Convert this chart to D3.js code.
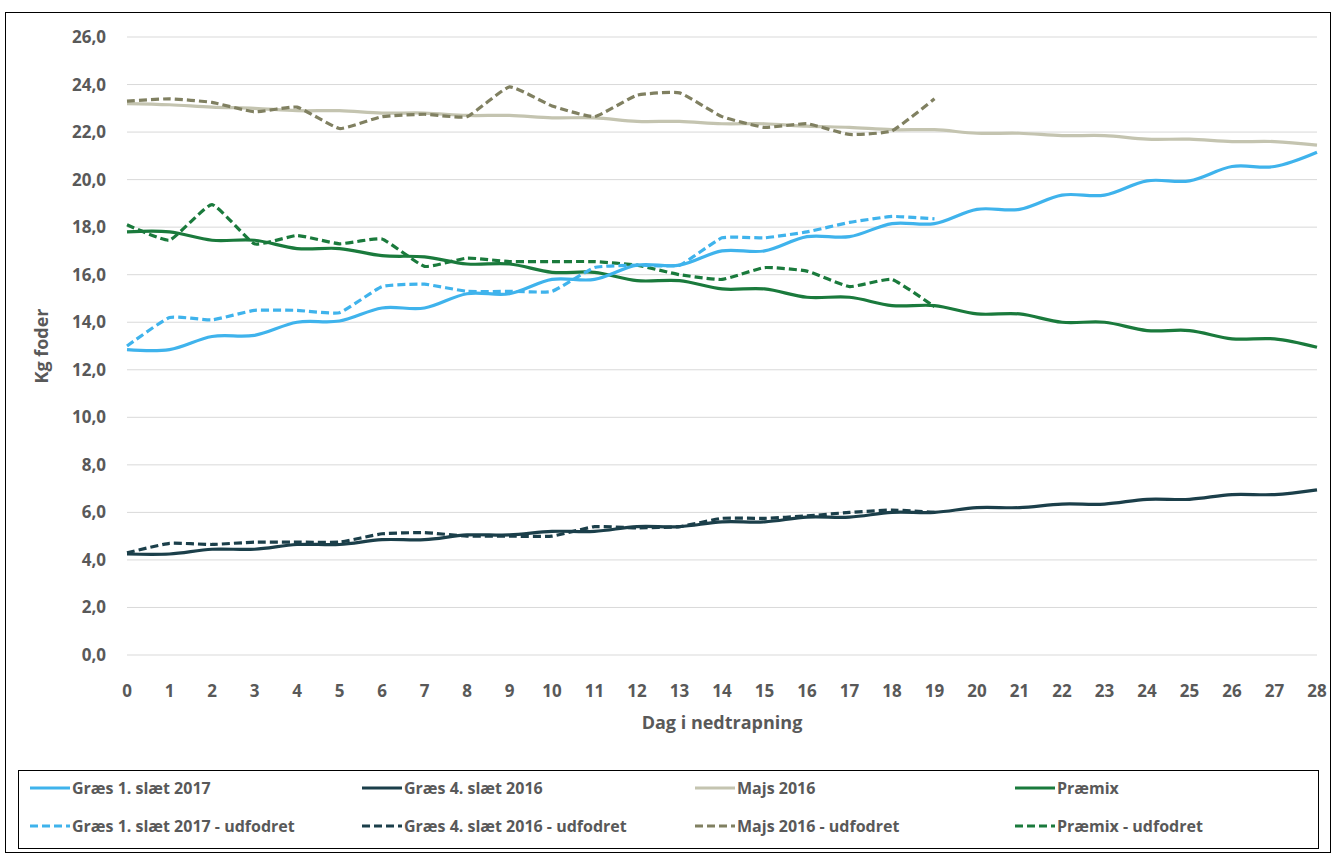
<!DOCTYPE html><html><head><meta charset="utf-8">
<script src="https://cdn.jsdelivr.net/npm/d3@7"></script>
<style>body{margin:0;background:#fff}text{font-family:"Open Sans",sans-serif;font-weight:bold;fill:#595959}</style>
</head><body><svg id="c" width="1333" height="855"></svg><script>
const days=d3.range(0,29);
const yTicks=d3.range(0,27,2);
const gras1=[12.85,12.85,13.4,13.45,14.0,14.05,14.6,14.6,15.2,15.2,15.8,15.8,16.4,16.4,17.0,17.0,17.6,17.6,18.15,18.15,18.75,18.75,19.35,19.35,19.95,19.95,20.55,20.55,21.15];
const gras1U=[13.0,14.2,14.1,14.5,14.5,14.4,15.5,15.6,15.3,15.3,15.3,16.3,16.4,16.4,17.55,17.55,17.8,18.2,18.45,18.35];
const gras4=[4.25,4.25,4.45,4.45,4.65,4.65,4.85,4.85,5.05,5.05,5.2,5.2,5.4,5.4,5.6,5.6,5.8,5.8,6.0,6.0,6.2,6.2,6.35,6.35,6.55,6.55,6.75,6.75,6.95];
const gras4U=[4.3,4.7,4.65,4.75,4.75,4.75,5.1,5.15,5.0,5.0,5.0,5.4,5.35,5.4,5.75,5.75,5.85,6.0,6.1,6.0];
const majs=[23.2,23.15,23.05,23.0,22.9,22.9,22.8,22.8,22.7,22.7,22.6,22.6,22.45,22.45,22.35,22.35,22.25,22.2,22.1,22.1,21.95,21.95,21.85,21.85,21.7,21.7,21.6,21.6,21.45];
const majsU=[23.3,23.4,23.25,22.85,23.05,22.15,22.65,22.75,22.65,23.9,23.1,22.65,23.55,23.65,22.65,22.2,22.35,21.9,22.05,23.4];
const premix=[17.8,17.8,17.45,17.45,17.1,17.1,16.8,16.75,16.45,16.45,16.1,16.1,15.75,15.75,15.4,15.4,15.05,15.05,14.7,14.7,14.35,14.35,14.0,14.0,13.65,13.65,13.3,13.3,12.95];
const premixU=[18.1,17.45,18.95,17.3,17.65,17.3,17.5,16.35,16.7,16.55,16.55,16.55,16.4,16.0,15.8,16.3,16.15,15.5,15.8,14.65];
const series=[
 {name:"Græs 1. slæt 2017",v:gras1,c:"#3fb3ec",d:null},
 {name:"Græs 4. slæt 2016",v:gras4,c:"#1b3f4a",d:null},
 {name:"Majs 2016",v:majs,c:"#c4c4b0",d:null},
 {name:"Præmix",v:premix,c:"#1a7a3c",d:null},
 {name:"Græs 1. slæt 2017 - udfodret",v:gras1U,c:"#3fb3ec",d:"8,4"},
 {name:"Græs 4. slæt 2016 - udfodret",v:gras4U,c:"#1b3f4a",d:"8,4"},
 {name:"Majs 2016 - udfodret",v:majsU,c:"#808061",d:"8,4"},
 {name:"Præmix - udfodret",v:premixU,c:"#1a7a3c",d:"8,4"}];
const svg=d3.select("#c");
svg.append("rect").attr("x",5.5).attr("y",12.5).attr("width",1325).attr("height",840).attr("fill","none").attr("stroke","#000");
const x=d3.scaleLinear().domain([0,28]).range([127,1317]);
const y=d3.scaleLinear().domain([0,26]).range([655,37]);
svg.append("g").selectAll("line").data(yTicks).join("line").attr("x1",127).attr("x2",1317).attr("y1",d=>y(d)).attr("y2",d=>y(d)).attr("stroke","#d9d9d9");
svg.append("g").selectAll("text").data(yTicks).join("text").attr("x",106).attr("y",d=>y(d)+6).attr("text-anchor","end").attr("font-size",17).text(d=>d.toFixed(1).replace(".",","));
svg.append("g").selectAll("text").data(days).join("text").attr("x",d=>x(d)).attr("y",697).attr("text-anchor","middle").attr("font-size",17).text(d=>d);
svg.append("text").attr("x",722).attr("y",729).attr("text-anchor","middle").attr("font-size",18).text("Dag i nedtrapning");
svg.append("text").attr("transform","translate(48,346) rotate(-90)").attr("text-anchor","middle").attr("font-size",18).text("Kg foder");
const line=d3.line().x((d,i)=>x(i)).y(d=>y(d)).curve(d3.curveCatmullRom);
const lineD=d3.line().x((d,i)=>x(i)).y(d=>y(d)).curve(d3.curveCardinal.tension(0.6));
const order=[2,6,3,7,0,4,1,5];
order.forEach(i=>{const s=series[i];svg.append("path").attr("d",(s.d?lineD:line)(s.v)).attr("fill","none").attr("stroke",s.c).attr("stroke-width",s.d?3.2:3.2).attr("stroke-dasharray",s.d);});
svg.append("rect").attr("x",18.5).attr("y",770.5).attr("width",1300).attr("height",78).attr("fill","none").attr("stroke","#000");
const cols=[30,362,695,1015];
series.forEach((s,i)=>{const lx=cols[i%4],ly=i<4?788:826;
 svg.append("line").attr("x1",lx).attr("x2",lx+40).attr("y1",ly).attr("y2",ly).attr("stroke",s.c).attr("stroke-width",3).attr("stroke-dasharray",s.d);
 svg.append("text").attr("x",lx+42).attr("y",ly+6).attr("font-size",16).text(s.name);});
</script></body></html>
